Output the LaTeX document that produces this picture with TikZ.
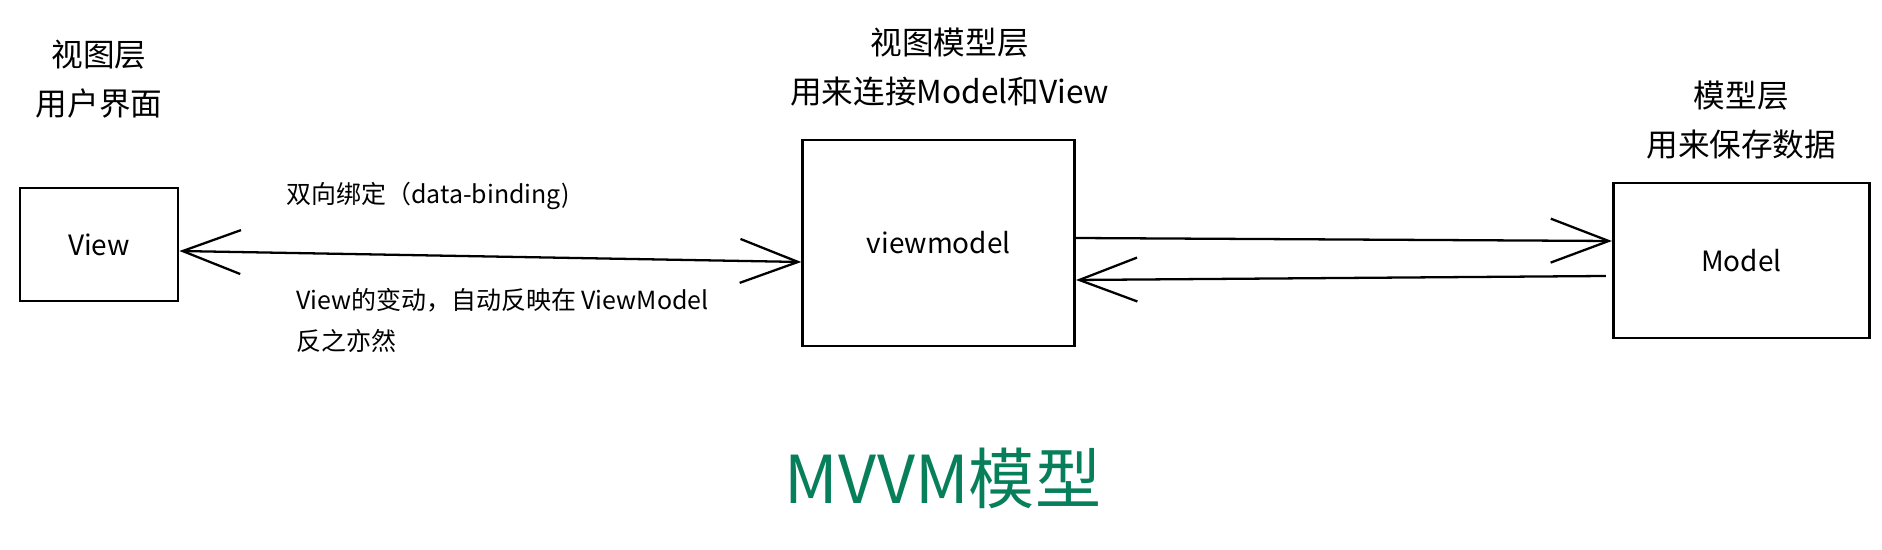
\documentclass[tikz,border=0pt]{standalone}
\usepackage{fontspec}
\setmainfont{Noto Sans CJK SC}
\usetikzlibrary{arrows.meta,positioning}
\definecolor{titlegreen}{HTML}{087F5B}

\begin{document}
\begin{tikzpicture}[
    x=0.02cm, y=-0.02cm,
    node distance=1.0cm,
    box/.style={
        rectangle,
        draw,
        line width=1.6pt,
        inner sep=0pt,
        font=\fontsize{15.9pt}{19pt}\selectfont
    },
    layer/.style={
        align=center,
        inner sep=0pt,
        font=\fontsize{18pt}{27.9pt}\selectfont
    },
    note/.style={
        align=left,
        inner sep=0pt,
        anchor=west,
        font=\fontsize{14.2pt}{23.3pt}\selectfont
    },
    line/.style={
        draw,
        line width=1.3pt,
        -{Straight Barb[length=33pt,width=25pt]}
    },
    biline/.style={
        line,
        {Straight Barb[length=33pt,width=25pt]}-{Straight Barb[length=33pt,width=25pt]}
    }
]
    \useasboundingbox (0,0) rectangle (1882,550);

    % Layers
    \node [box, minimum width=3.16cm, minimum height=2.26cm] (view) at (99,244.5) {View};
    \node [box, minimum width=5.44cm, minimum height=4.12cm, right=12.44cm of view, yshift=0.03cm] (vm) {viewmodel};
    \node [box, minimum width=5.12cm, minimum height=3.10cm, right=10.72cm of vm, yshift=-0.35cm] (model) {Model};

    % Layer captions
    \node [layer, above=1.37cm of view] (view_cap) {视图层\\用户界面};
    \node [layer, above=0.65cm of vm, xshift=0.22cm] (vm_cap) {视图模型层\\用来连接Model和View};
    \node [layer, above=0.45cm of model] (model_cap) {模型层\\用来保存数据};

    % Edges
    \path [biline] ([yshift=-0.13cm]view.east) -- ([yshift=-0.38cm]vm.west);
    \path [line] ([yshift=0.10cm]vm.east) -- ([yshift=0.39cm]model.west);
    \path [line] ([xshift=-0.12cm,yshift=-0.31cm]model.west) -- ([yshift=-0.74cm]vm.east);

    % Binding notes
    \node [note] (bind_note) at (286,196) {双向绑定（data-binding)};
    \node [note] (sync_note) at (296,320.5) {View的变动，自动反映在 ViewModel\\反之亦然};

    % Title
    \node [font=\fontsize{37.6pt}{40pt}\selectfont, text=titlegreen] (title) at (943,478) {MVVM模型};

\end{tikzpicture}
\end{document}
